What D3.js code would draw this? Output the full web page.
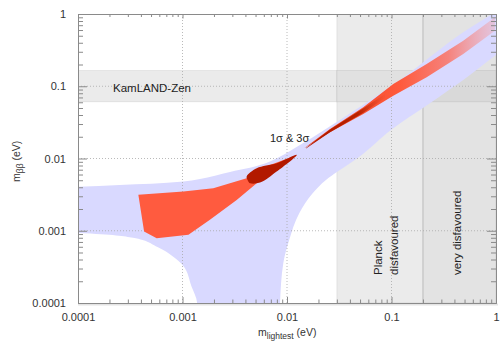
<!DOCTYPE html>
<html>
<head>
<meta charset="utf-8">
<script src="https://cdn.jsdelivr.net/npm/d3@7"></script>
<style>
    html, body { margin: 0; padding: 0; background: #fff; }
    #mbb-plot svg { display: block; font-family: "Liberation Sans", Arial, sans-serif; }
</style>
</head>
<body>
<div id="mbb-plot"></div>
<script>
'use strict';

// decade ticks on both axes
const majorTicks = [1e-4, 1e-3, 1e-2, 1e-1, 1];
const tickLabels = ['0.0001', '0.001', '0.01', '0.1', '1'];

// excluded / disfavoured regions (eV)
const kamlandRange = [0.061, 0.165];
const planckLimit = 0.03;
const veryDisfavouredLimit = 0.2;

// allowed normal-ordering band: [m_lightest, m_bb]
const bandUpper = [
    [5e-5, 4.0e-3], [1e-4, 4.08e-3], [2.5e-4, 4.3e-3], [1.02e-3, 4.8e-3],
    [1.47e-3, 5.2e-3], [2.85e-3, 6.5e-3], [6.87e-3, 9.06e-3], [1.33e-2, 1.54e-2],
    [4.01e-2, 4.23e-2], [0.12, 0.122], [0.486, 0.558], [1, 1.08], [2, 2.15]
];
const bandLower = [
    [2, 0.55], [1, 0.271], [0.486, 0.122], [0.233, 0.0582], [0.0989, 0.0249],
    [0.0492, 0.0106], [0.0305, 6.59e-3], [0.0236, 5.06e-3], [0.0176, 3.31e-3],
    [0.0131, 1.75e-3], [0.01051, 7.48e-4], [0.00923, 3.6e-4], [0.00857, 1e-4],
    [0.0082, 1e-5]
];
const bandCancel = [
    [1.45e-3, 1e-5], [1.38e-3, 1e-4], [1.22e-3, 1.69e-4], [1.01e-3, 3.3e-4],
    [8.1e-4, 4.4e-4], [5.7e-4, 6.0e-4], [3.36e-4, 7.98e-4], [1e-4, 9.3e-4], [5e-5, 9.5e-4]
];

// model prediction, 3 sigma
const sigma3Region = [
    [3.78e-4, 3.14e-3], [1.02e-3, 3.48e-3], [1.97e-3, 3.88e-3], [4.11e-3, 5.34e-3],
    [6.87e-3, 8.16e-3], [1.25e-2, 1.12e-2], [6.87e-3, 6.26e-3], [5.13e-3, 4.55e-3],
    [3.30e-3, 2.67e-3], [1.83e-3, 1.42e-3], [1.14e-3, 8.78e-4], [5.66e-4, 7.9e-4],
    [4.29e-4, 9.75e-4]
];
const sigma3Tail = [
    [1.45e-2, 1.37e-2], [2.58e-2, 2.57e-2], [5.37e-2, 5.12e-2], [0.104, 0.1076],
    [0.217, 0.203], [0.486, 0.427], [0.977, 0.90],
    [0.977, 0.587], [0.486, 0.28], [0.217, 0.133], [0.104, 0.0741],
    [5.37e-2, 0.0414], [2.58e-2, 0.0231]
];

// model prediction, 1 sigma
const sigma1Blob = [
    [4.11e-3, 5.62e-3], [5.13e-3, 7.34e-3], [7.96e-3, 8.61e-3], [1.24e-2, 1.12e-2],
    [7.96e-3, 6.59e-3], [5.52e-3, 4.64e-3], [4.43e-3, 4.55e-3], [4.24e-3, 4.9e-3]
];
const sigma1Tail = [
    [1.52e-2, 1.40e-2], [2.58e-2, 2.53e-2], [5.34e-2, 4.93e-2], [8.67e-2, 7.82e-2],
    [8.67e-2, 6.89e-2], [5.34e-2, 4.27e-2], [2.58e-2, 2.31e-2], [1.52e-2, 1.38e-2]
];

function buildMbbPlot() {

    const width = 502;
    const height = 343;

    const left = 78;
    const right = 496;
    const top = 14;
    const bottom = 303;

    const svg = d3.select('#mbb-plot')
        .append('svg')
            .attr('width', width)
            .attr('height', height);

    const x = d3.scaleLog().domain([1e-4, 1]).range([left, right]);
    const y = d3.scaleLog().domain([1e-4, 1]).range([bottom, top]);

    const defs = svg.append('defs');
    defs.append('clipPath')
        .attr('id', 'plot-clip')
        .append('rect')
            .attr('x', left)
            .attr('y', top)
            .attr('width', right - left)
            .attr('height', bottom - top);

    const tailGrad = defs.append('linearGradient')
        .attr('id', 'tail-grad')
        .attr('gradientUnits', 'userSpaceOnUse')
        .attr('x1', x(0.015)).attr('x2', x(1))
        .attr('y1', 0).attr('y2', 0);
    const tailSpan = x(1) - x(0.015);
    [
        { at: 0.015, color: '#e8401f', opacity: 1 },
        { at: 0.12, color: '#ff5a3c', opacity: 1 },
        { at: 0.35, color: '#ff6550', opacity: 0.75 },
        { at: 1, color: '#ff8a80', opacity: 0.25 }
    ].forEach(s => tailGrad.append('stop')
        .attr('offset', (x(s.at) - x(0.015)) / tailSpan)
        .attr('stop-color', s.color)
        .attr('stop-opacity', s.opacity));

    const coreGrad = defs.append('linearGradient')
        .attr('id', 'core-grad')
        .attr('gradientUnits', 'userSpaceOnUse')
        .attr('x1', x(0.015)).attr('x2', x(0.09))
        .attr('y1', 0).attr('y2', 0);
    coreGrad.append('stop').attr('offset', 0).attr('stop-color', '#ad1800').attr('stop-opacity', 1);
    coreGrad.append('stop').attr('offset', 0.65).attr('stop-color', '#b82200').attr('stop-opacity', 1);
    coreGrad.append('stop').attr('offset', 1).attr('stop-color', '#d83a18').attr('stop-opacity', 0);

    const plot = svg.append('g').attr('clip-path', 'url(#plot-clip)');

    // grey regions
    const rect = (x0, x1, y0, y1, fill) => plot.append('rect')
        .attr('x', x(x0))
        .attr('y', y(y1))
        .attr('width', x(x1) - x(x0))
        .attr('height', y(y0) - y(y1))
        .attr('fill', fill)
        .attr('stroke', 'rgba(0,0,0,0.07)')
        .attr('stroke-width', 1);

    rect(planckLimit, 1, 1e-4, 1, '#ebebeb');
    rect(veryDisfavouredLimit, 1, 1e-4, 1, '#e3e3e3');
    rect(1e-4, planckLimit, kamlandRange[0], kamlandRange[1], '#ebebeb');
    rect(planckLimit, veryDisfavouredLimit, kamlandRange[0], kamlandRange[1], '#e1e1e1');
    rect(veryDisfavouredLimit, 1, kamlandRange[0], kamlandRange[1], '#d9d9d9');

    plot.append('line')
        .attr('x1', x(veryDisfavouredLimit)).attr('x2', x(veryDisfavouredLimit))
        .attr('y1', top).attr('y2', bottom)
        .attr('stroke', '#c4c4c4')
        .attr('stroke-width', 1);

    // allowed band: each edge gets its own monotone curve, then joined
    const edge = (pts, curve) => d3.line()
        .x(d => x(d[0]))
        .y(d => y(d[1]))
        .curve(curve)(pts);
    const bandPath = edge(bandUpper, d3.curveMonotoneX)
        + edge(bandLower, d3.curveMonotoneY).replace(/^M/, 'L')
        + edge(bandCancel, d3.curveMonotoneY).replace(/^M/, 'L')
        + 'Z';

    plot.append('path')
        .attr('fill', '#d9d9ff')
        .attr('d', bandPath);

    // dotted decade grid
    const grid = plot.append('g')
        .attr('stroke', '#a8a8a8')
        .attr('stroke-width', 0.8)
        .attr('stroke-dasharray', '1,2');
    grid.selectAll('line.v')
        .data(majorTicks.slice(1, -1))
        .enter()
        .append('line')
            .attr('class', 'v')
            .attr('x1', d => x(d)).attr('x2', d => x(d))
            .attr('y1', top).attr('y2', bottom);
    grid.selectAll('line.h')
        .data(majorTicks.slice(1, -1))
        .enter()
        .append('line')
            .attr('class', 'h')
            .attr('x1', left).attr('x2', right)
            .attr('y1', d => y(d)).attr('y2', d => y(d));

    // model regions
    const closed = d3.line().x(d => x(d[0])).y(d => y(d[1])).curve(d3.curveLinearClosed);

    plot.append('path')
        .datum(sigma3Region)
        .attr('fill', '#ff5b3f')
        .attr('d', closed);

    plot.append('path')
        .datum(sigma3Tail)
        .attr('fill', 'url(#tail-grad)')
        .attr('d', closed);

    plot.append('path')
        .datum(sigma1Blob)
        .attr('fill', '#b21900')
        .attr('d', d3.line().x(d => x(d[0])).y(d => y(d[1]))
            .curve(d3.curveCatmullRomClosed.alpha(0.5)));

    plot.append('path')
        .datum(sigma1Tail)
        .attr('fill', 'url(#core-grad)')
        .attr('d', closed);

    // axes, ticks pointing inwards
    const minor = x.ticks().filter(t => !majorTicks.some(m => Math.abs(Math.log10(t) - Math.log10(m)) < 1e-6));
    const labelOf = d => tickLabels[majorTicks.findIndex(m => Math.abs(m - d) < d * 1e-6)];

    const styleAxis = g => {
        g.selectAll('path.domain').attr('stroke', '#8a8a8a');
        g.selectAll('line').attr('stroke', '#8a8a8a');
        g.selectAll('text')
            .attr('fill', '#333')
            .attr('font-size', 11)
            .attr('font-family', '"Liberation Sans", Arial, sans-serif');
    };

    // light strip under the bottom axis
    svg.append('line')
        .attr('x1', left).attr('x2', right + 2)
        .attr('y1', bottom + 1.5).attr('y2', bottom + 1.5)
        .attr('stroke', '#e4e4e4')
        .attr('stroke-width', 2);

    svg.append('g')
        .attr('transform', `translate(0,${bottom})`)
        .call(d3.axisBottom(x).tickValues(minor).tickSize(-3.5).tickSizeOuter(0).tickFormat(''))
        .call(styleAxis);
    svg.append('g')
        .attr('transform', `translate(0,${bottom})`)
        .call(d3.axisBottom(x).tickValues(majorTicks).tickSize(-6).tickSizeOuter(0)
            .tickPadding(10).tickFormat(labelOf))
        .call(styleAxis);

    svg.append('g')
        .attr('transform', `translate(0,${top})`)
        .call(d3.axisTop(x).tickValues(minor).tickSize(-3).tickSizeOuter(0).tickFormat(''))
        .call(styleAxis);
    svg.append('g')
        .attr('transform', `translate(0,${top})`)
        .call(d3.axisTop(x).tickValues(majorTicks).tickSize(-4.5).tickSizeOuter(0).tickFormat(''))
        .call(styleAxis);

    svg.append('g')
        .attr('transform', `translate(${left},0)`)
        .call(d3.axisLeft(y).tickValues(minor).tickSize(-5).tickSizeOuter(0).tickFormat(''))
        .call(styleAxis);
    svg.append('g')
        .attr('transform', `translate(${left},0)`)
        .call(d3.axisLeft(y).tickValues(majorTicks).tickSize(-9).tickSizeOuter(0)
            .tickPadding(12).tickFormat(labelOf))
        .call(styleAxis);

    svg.append('g')
        .attr('transform', `translate(${right},0)`)
        .call(d3.axisRight(y).tickValues(minor).tickSize(-5).tickSizeOuter(0).tickFormat(''))
        .call(styleAxis);
    svg.append('g')
        .attr('transform', `translate(${right},0)`)
        .call(d3.axisRight(y).tickValues(majorTicks).tickSize(-9).tickSizeOuter(0).tickFormat(''))
        .call(styleAxis);

    // axis titles
    const xTitle = svg.append('text')
        .attr('x', 258)
        .attr('y', 336)
        .attr('fill', '#333')
        .attr('font-size', 10.5);
    xTitle.append('tspan').text('m');
    xTitle.append('tspan').attr('font-size', 8.5).attr('dy', 3).text('lightest');
    xTitle.append('tspan').attr('dy', -3).text(' (eV)');

    const yTitle = svg.append('text')
        .attr('transform', 'translate(20,182) rotate(-90)')
        .attr('fill', '#333')
        .attr('font-size', 10.5);
    yTitle.append('tspan').text('m');
    yTitle.append('tspan').attr('font-size', 8.5).attr('dy', 3).text('ββ');
    yTitle.append('tspan').attr('dy', -3).text(' (eV)');

    // region labels
    svg.append('text')
        .attr('x', 113)
        .attr('y', 91.5)
        .attr('fill', '#222')
        .attr('font-size', 11.5)
        .text('KamLAND-Zen');

    svg.append('text')
        .attr('x', 270)
        .attr('y', 142)
        .attr('fill', '#222')
        .attr('font-size', 11)
        .text('1σ & 3σ');

    const vertical = (xPos, label) => svg.append('text')
        .attr('transform', `translate(${xPos},275) rotate(-90)`)
        .attr('fill', '#222')
        .attr('font-size', 11.5)
        .text(label);

    vertical(382, 'Planck');
    vertical(398, 'disfavoured');
    vertical(461, 'very disfavoured');
}

window.addEventListener('DOMContentLoaded', () => {
    buildMbbPlot();
});
</script>
</body>
</html>
